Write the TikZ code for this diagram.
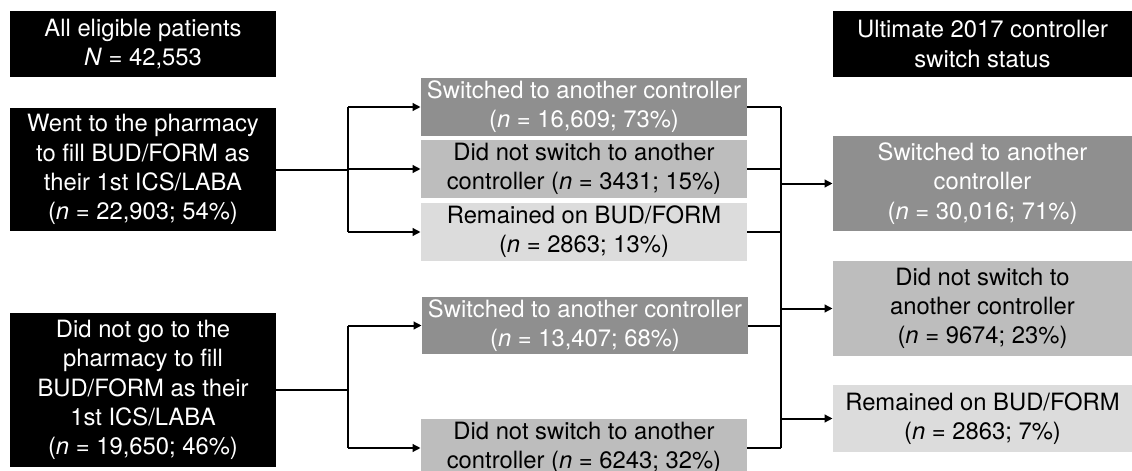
\documentclass[tikz,border=0pt]{standalone}
\usepackage{fontspec}
\setmainfont{TeX Gyre Heros}
\usepackage{tikz}
\usetikzlibrary{arrows.meta}
\definecolor{darkgrey}{HTML}{8F8F8F}
\definecolor{midgrey}{HTML}{BDBDBD}
\definecolor{lightgrey}{HTML}{DCDCDC}

\begin{document}
\begin{tikzpicture}[x=0.5pt,y=-0.5pt,
		box/.style={inner sep=0pt, align=center, font=\fontsize{11.9}{14.6}\selectfont},
		blackbox/.style={box, fill=black, text=white},
		darkbox/.style={box, fill=darkgrey, text=white},
		midbox/.style={box, fill=midgrey, text=black},
		lightbox/.style={box, fill=lightgrey, text=black},
		link/.style={line width=1pt},
		arr/.style={link, -{Triangle[length=4pt,width=3.8pt]}}]
			\useasboundingbox (0,0) rectangle (1132,471);
			\clip (0,0) rectangle (1132,471);
			% first column
			\node[blackbox, minimum width=133pt, minimum height=33pt] (all) at (143,44)
				{All eligible patients\\\textit{N} = 42,553};
			\node[blackbox, minimum width=133pt, minimum height=61.5pt] (went) at (143,169.5)
				{Went to the pharmacy\\to fill BUD/FORM as\\their 1st ICS/LABA\\(\textit{n} = 22,903; 54\%)};
			\node[blackbox, minimum width=133pt, minimum height=77pt] (notgo) at (143,390)
				{Did not go to the\\pharmacy to fill\\BUD/FORM as their\\1st ICS/LABA\\(\textit{n} = 19,650; 46\%)};
			% second column
			\node[darkbox, minimum width=163pt, minimum height=29pt] (sw1) at (584,107)
				{Switched to another controller\\(\textit{n} = 16,609; 73\%)};
			\node[midbox, minimum width=163pt, minimum height=29pt] (ns1) at (584,169)
				{Did not switch to another\\controller (\textit{n} = 3431; 15\%)};
			\node[lightbox, minimum width=163pt, minimum height=29pt] (rem1) at (584,232)
				{Remained on BUD/FORM\\(\textit{n} = 2863; 13\%)};
			\node[darkbox, minimum width=163pt, minimum height=28.5pt] (sw2) at (585,325.5)
				{Switched to another controller\\(\textit{n} = 13,407; 68\%)};
			\node[midbox, minimum width=163pt, minimum height=29pt] (ns2) at (584,448)
				{Did not switch to another\\controller (\textit{n} = 6243; 32\%)};
			% third column
			\node[blackbox, minimum width=149.5pt, minimum height=33pt] (ult) at (982.5,44)
				{Ultimate 2017 controller\\switch status};
			\node[darkbox, minimum width=149.5pt, minimum height=47.5pt] (swT) at (982.5,183.5)
				{Switched to another\\controller\\(\textit{n} = 30,016; 71\%)};
			\node[midbox, minimum width=149.5pt, minimum height=47.5pt] (nsT) at (982.5,308.5)
				{Did not switch to\\another controller\\(\textit{n} = 9674; 23\%)};
			\node[lightbox, minimum width=149.5pt, minimum height=33.5pt] (remT) at (982.5,418.5)
				{Remained on BUD/FORM\\(\textit{n} = 2863; 7\%)};
			% connectors
			\coordinate (jA) at (348,169.5);
			\coordinate (jB) at (348,390);
			\coordinate (jC) at (781,187);
			\draw[link] (went.east) -- (jA);
			\draw[link] (jA |- sw1) -- (jA |- rem1);
			\foreach \n in {sw1, ns1, rem1}
				\draw[arr] (jA |- \n) -- (\n.west);
			\draw[link] (notgo.east) -- (jB);
			\draw[link] (jB |- sw2) -- (jB |- ns2);
			\foreach \n in {sw2, ns2}
				\draw[arr] (jB |- \n) -- (\n.west);
			\draw[link] (jC |- sw1) -- (jC |- ns2);
			\foreach \n in {sw1, ns1, rem1, sw2, ns2}
				\draw[link] (\n.east) -- (jC |- \n);
			\foreach \n in {swT, nsT, remT}
				\draw[arr] (jC |- \n) -- (\n.west);
		\end{tikzpicture}
\end{document}
